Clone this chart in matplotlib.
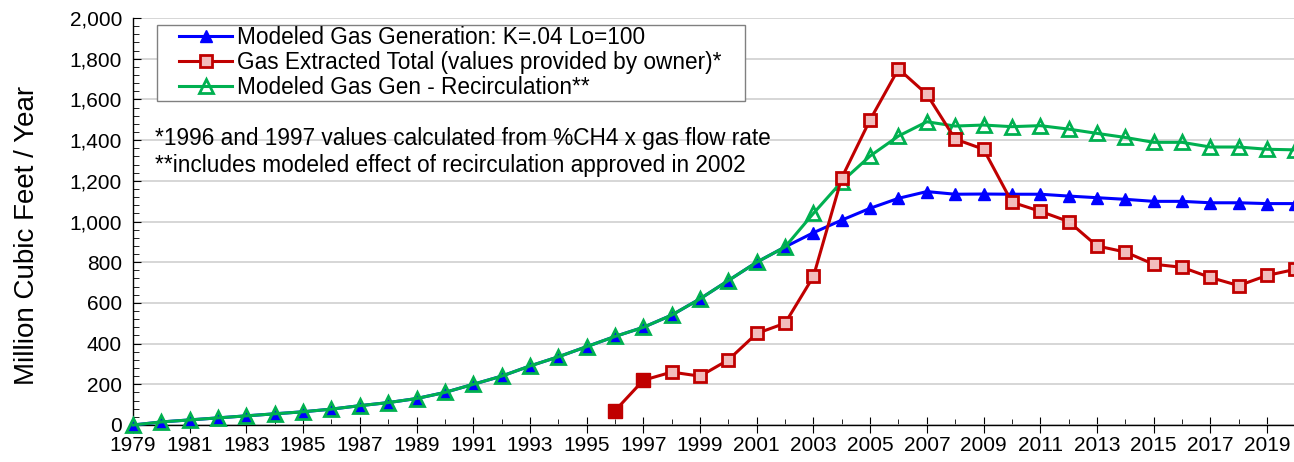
import matplotlib
matplotlib.use("Agg")
import matplotlib.pyplot as plt
from matplotlib.ticker import MultipleLocator, FixedLocator, FuncFormatter
from matplotlib.patches import Rectangle

plt.rcParams['font.family'] = ['Liberation Sans', 'DejaVu Sans']

years = list(range(1979, 2021))
modeled = [0, 15, 25, 35, 45, 55, 65, 78, 95, 110, 130, 160, 200, 240, 290, 335,
           385, 435, 480, 540, 620, 710, 800, 875, 945, 1007, 1065, 1114, 1147,
           1134, 1135, 1134, 1134, 1125, 1117, 1109, 1099, 1099, 1092, 1092, 1088, 1088]
recirc = [0, 15, 25, 35, 45, 55, 65, 78, 95, 110, 130, 160, 200, 240, 290, 335,
          385, 435, 480, 540, 620, 710, 800, 875, 1040, 1196, 1322, 1420, 1490,
          1469, 1474, 1466, 1471, 1454, 1433, 1413, 1389, 1389, 1366, 1366, 1355, 1352]
ext_years = list(range(1996, 2021))
extracted = [70, 220, 260, 240, 320, 450, 500, 730, 1215, 1500, 1750, 1625, 1405,
             1355, 1095, 1050, 1000, 880, 850, 790, 775, 725, 685, 735, 765]
calc_years = [1996, 1997]
calc_vals = [70, 220]
xtick_years = list(range(1979, 2020, 2))

labels = ["Modeled Gas Generation: K=.04 Lo=100",
          "Gas Extracted Total (values provided by owner)*",
          "Modeled Gas Gen - Recirculation**"]
notes = ["*1996 and 1997 values calculated from %CH4 x gas flow rate",
         "**includes modeled effect of recirculation approved in 2002"]

blue = '#0000ff'
red = '#c00000'
green = '#00b050'

W, H = 1294, 462
fig = plt.figure(figsize=(W / 100, H / 100), dpi=100)
ax = fig.add_axes([133 / W, 1 - 425 / H, (W - 133) / W, (425 - 18) / H])

ax.plot(years, modeled, color=blue, lw=2.2, marker='^', ms=9, mfc=blue, mec=blue,
        label=labels[0], zorder=3, clip_on=False)
ax.plot(ext_years, extracted, color=red, lw=2.2, marker='s', ms=9, mfc='#f2bcbc',
        mec=red, mew=2, label=labels[1], zorder=4)
ax.plot(calc_years, calc_vals, ls='none', marker='s', ms=10, mfc=red, mec=red, zorder=5)
ax.plot(years, recirc, color=green, lw=2.2, marker='^', ms=10, mfc='none', mec=green,
        mew=2, label=labels[2], zorder=3, clip_on=False)

ax.set_xlim(1979, 2019.95)
ax.set_ylim(0, 2000)
ax.xaxis.set_major_locator(FixedLocator(xtick_years))
ax.xaxis.set_minor_locator(MultipleLocator(1))
ax.yaxis.set_major_locator(MultipleLocator(200))
ax.yaxis.set_minor_locator(MultipleLocator(40))
ax.yaxis.set_major_formatter(FuncFormatter(lambda v, p: f"{int(v):,}"))
ax.grid(axis='y', which='major', color='#d0d0d0', lw=1.2, zorder=0)
ax.set_axisbelow(True)
for s in ['top', 'right']:
    ax.spines[s].set_visible(False)
for s in ['left', 'bottom']:
    ax.spines[s].set_color('black')
    ax.spines[s].set_linewidth(1.0)
ax.tick_params(axis='y', which='major', direction='in', length=6, labelsize=15, pad=8)
ax.tick_params(axis='y', which='minor', direction='in', length=4)
ax.tick_params(axis='x', which='major', direction='inout', length=12, labelsize=15, pad=2)
ax.tick_params(axis='x', which='minor', direction='in', length=4)
ax.set_ylabel("Million Cubic Feet / Year", fontsize=20)
ax.yaxis.set_label_coords((40 - 133) / (W - 133), 1 - (235.5 - 18) / 407)

# legend frame drawn as a figure rectangle
fig.patches.append(Rectangle((157 / W, 1 - 101 / H), (745 - 157) / W, (101 - 25) / H,
                             transform=fig.transFigure, facecolor='white',
                             edgecolor='#808080', lw=1.0, zorder=5))
leg = fig.legend(loc='upper left', bbox_to_anchor=(179 / W, 1 - 26 / H), fontsize=16.3,
                 frameon=False, handlelength=2.35, handletextpad=0.22, borderpad=0,
                 labelspacing=0.09, borderaxespad=0)
leg.set_zorder(6)

fig.text(155 / W, 1 - 138 / H, notes[0], fontsize=16.3, va='center', ha='left')
fig.text(155 / W, 1 - 165 / H, notes[1], fontsize=16.3, va='center', ha='left')

fig.savefig("out.png", dpi=100)
